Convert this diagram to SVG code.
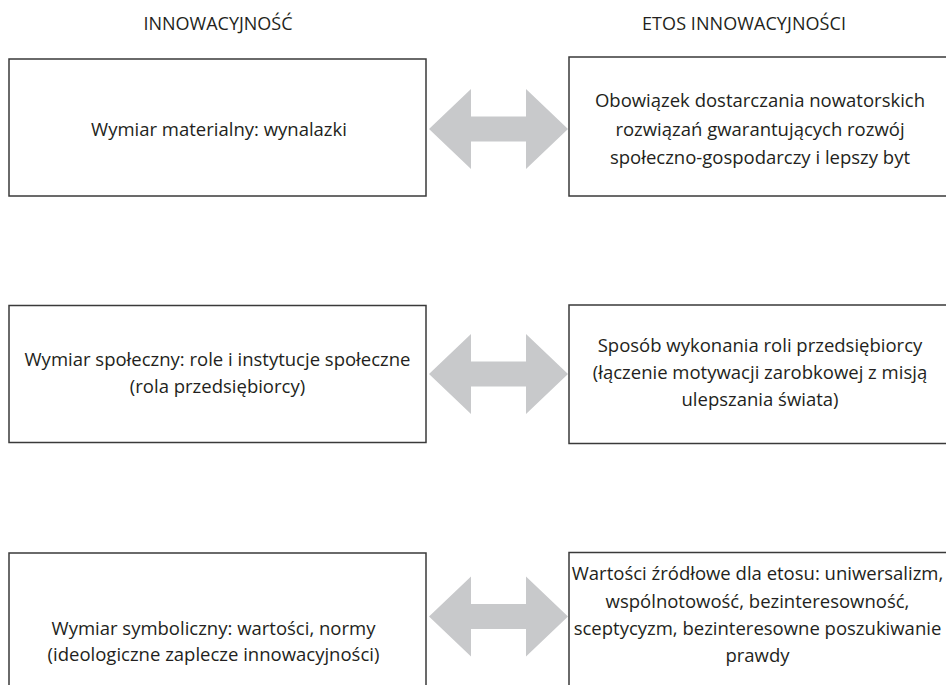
<svg xmlns="http://www.w3.org/2000/svg" width="946" height="685" viewBox="0 0 946 685">
<defs>
<style>
text{font-family:"Open Sans",Lato,"Liberation Sans",sans-serif;font-size:18.5px;fill:#231f20;text-anchor:middle}
.title{font-size:18px}
.box{fill:#fff;stroke:#3a3a3a;stroke-width:1.5}
.arrow{fill:#c8c9cb;stroke:none}
</style>
<path id="dbl" class="arrow" d="M429,0 L471,-40 L471,-12.5 L526,-12.5 L526,-40 L568,0 L526,40 L526,12.5 L471,12.5 L471,40 Z"/>
</defs>
<rect width="946" height="685" fill="#fff"/>
<g id="titles">
<text class="title" x="218" y="30">INNOWACYJNOŚĆ</text>
<text class="title" x="744" y="30" textLength="204" lengthAdjust="spacing">ETOS INNOWACYJNOŚCI</text>
</g>
<g id="n1">
<rect class="box" x="9" y="59" width="417" height="137"/>
<text x="219" y="136">Wymiar materialny: wynalazki</text>
</g>
<g id="n2">
<rect class="box" x="569" y="57" width="390" height="139"/>
<text x="760" y="107">Obowiązek dostarczania nowatorskich</text>
<text x="760" y="136">rozwiązań gwarantujących rozwój</text>
<text x="760" y="164">społeczno-gospodarczy i lepszy byt</text>
</g>
<g id="n3">
<rect class="box" x="9" y="305.5" width="417" height="137"/>
<text x="217.5" y="366">Wymiar społeczny: role i instytucje społeczne</text>
<text x="217.5" y="393">(rola przedsiębiorcy)</text>
</g>
<g id="n4">
<rect class="box" x="569" y="305" width="390" height="138.5"/>
<text x="760" y="352">Sposób wykonania roli przedsiębiorcy</text>
<text x="760" y="379">(łączenie motywacji zarobkowej z misją</text>
<text x="760" y="406">ulepszania świata)</text>
</g>
<g id="n5">
<rect class="box" x="9" y="553" width="417" height="150"/>
<text x="213.5" y="635">Wymiar symboliczny: wartości, normy</text>
<text x="213.5" y="661">(ideologiczne zaplecze innowacyjności)</text>
</g>
<g id="n6">
<rect class="box" x="569" y="552.5" width="390" height="150"/>
<text x="757.5" y="580">Wartości źródłowe dla etosu: uniwersalizm,</text>
<text x="757.5" y="608">wspólnotowość, bezinteresowność,</text>
<text x="757.5" y="635">sceptycyzm, bezinteresowne poszukiwanie</text>
<text x="757.5" y="662">prawdy</text>
</g>
<g id="connectors">
<use href="#dbl" y="129"/>
<use href="#dbl" y="374"/>
<use href="#dbl" y="616.5"/>
</g>
</svg>
